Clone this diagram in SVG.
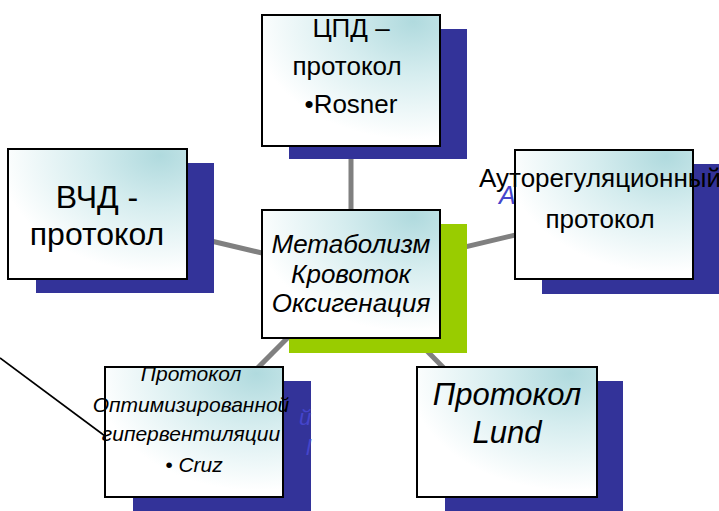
<svg xmlns="http://www.w3.org/2000/svg" width="719" height="511" viewBox="0 0 719 511">
  <defs>
    <radialGradient id="boxFill" cx="0.85" cy="0.05" r="0.9">
      <stop offset="0" stop-color="#b0dade"/>
      <stop offset="0.45" stop-color="#d6edef"/>
      <stop offset="1" stop-color="#ffffff"/>
    </radialGradient>
  </defs>
  <style>
    .shadow { fill: #333399; }
    .shadow-green { fill: #99cc00; }
    .box { fill: url(#boxFill); stroke: #000000; stroke-width: 2; }
    .link { stroke: #808080; stroke-width: 5; fill: none; }
    .pointer { stroke: #000000; stroke-width: 1.6; fill: none; }
    .t { font-family: "Liberation Sans", Arial, sans-serif; fill: #000000; text-anchor: middle; }
    .ti { font-family: "Liberation Sans", Arial, sans-serif; font-style: italic; fill: #000000; text-anchor: middle; }
    .ghost { font-family: "Liberation Sans", Arial, sans-serif; font-style: italic; fill: #4545cc; }
  </style>

  <!-- spokes from the hub to every protocol box -->
  <g id="connectors">
    <line class="link" x1="351" y1="274" x2="351" y2="80"/>
    <line class="link" x1="351" y1="274" x2="97" y2="214"/>
    <line class="link" x1="351" y1="274" x2="604" y2="214"/>
    <line class="link" x1="351" y1="274" x2="194" y2="432"/>
    <line class="link" x1="351" y1="274" x2="507" y2="432"/>
    <line class="pointer" x1="0" y1="358" x2="105" y2="436"/>
  </g>

  <!-- top: CPP protocol -->
  <g id="node-cpd">
    <rect class="shadow" x="289" y="29" width="178" height="130"/>
    <rect class="box" x="262" y="15" width="178" height="131"/>
    <text class="t" font-size="26" x="351" y="37">ЦПД –</text>
    <text class="t" font-size="26" x="347" y="75">протокол</text>
    <text class="t" font-size="26" x="351" y="113">•Rosner</text>
  </g>

  <!-- left: ICP protocol -->
  <g id="node-vchd">
    <rect class="shadow" x="36" y="163" width="178" height="130"/>
    <rect class="box" x="8" y="149" width="179" height="130"/>
    <text class="t" font-size="32" x="97" y="208">ВЧД -</text>
    <text class="t" font-size="32" x="97" y="245">протокол</text>
  </g>

  <!-- right: autoregulation protocol -->
  <g id="node-auto">
    <text class="ghost" font-size="25" x="499" y="204">А</text>
    <rect class="shadow" x="542" y="164" width="178" height="130"/>
    <rect class="box" x="515" y="150" width="178" height="129"/>
    <text class="t" font-size="26" x="600" y="187">Ауторегуляционный</text>
    <text class="t" font-size="26" x="600" y="228">протокол</text>
  </g>

  <!-- hub -->
  <g id="node-center">
    <rect class="shadow-green" x="289" y="224" width="178" height="129"/>
    <rect class="box" x="262" y="210" width="178" height="128"/>
    <text class="ti" font-size="26" x="351" y="253">Метаболизм</text>
    <text class="ti" font-size="26" x="351" y="283">Кровоток</text>
    <text class="ti" font-size="26" x="351" y="312">Оксигенация</text>
  </g>

  <!-- bottom left: optimized hyperventilation -->
  <g id="node-hyper">
    <rect class="shadow" x="133" y="381" width="178" height="130"/>
    <text class="ghost" font-size="22" x="299" y="425" fill="#5a5ad8">й</text>
    <text class="ghost" font-size="22" x="306" y="455" fill="#5a5ad8">l</text>
    <rect class="box" x="105" y="367" width="178" height="130"/>
    <text class="ti" font-size="21" x="191" y="381">Протокол</text>
    <text class="ti" font-size="21" x="191" y="412">Оптимизированной</text>
    <text class="ti" font-size="21" x="191" y="441">гипервентиляции</text>
    <text class="ti" font-size="21" x="194" y="472">• Cruz</text>
  </g>

  <!-- bottom right: Lund protocol -->
  <g id="node-lund">
    <rect class="shadow" x="445" y="381" width="178" height="130"/>
    <rect class="box" x="417" y="367" width="180" height="130"/>
    <text class="ti" font-size="31" x="507" y="405">Протокол</text>
    <text class="ti" font-size="31" x="507" y="443">Lund</text>
  </g>
</svg>
